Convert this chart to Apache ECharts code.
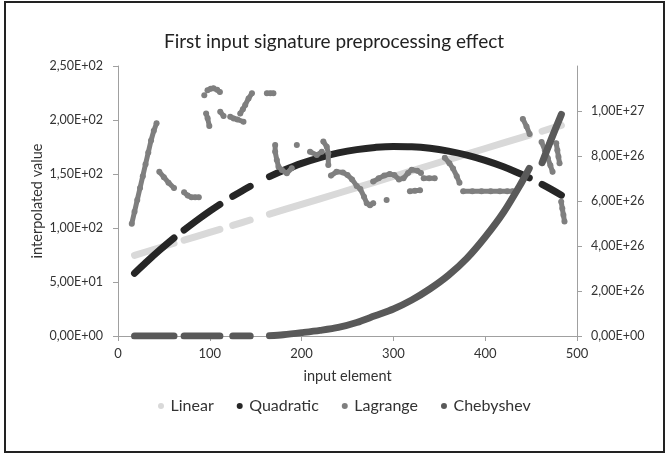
<!DOCTYPE html>
<html>
<head>
<meta charset="utf-8">
<script src="https://cdn.jsdelivr.net/npm/echarts@6/dist/echarts.min.js"></script>
<style>
html,body{margin:0;padding:0;background:#fff;}
#chart{width:668px;height:456px;}
</style>
</head>
<body>
<div id="chart"></div>
<script>
// ---- data ----
const chartTitle = 'First input signature preprocessing effect';
const seriesNames = ['Linear', 'Quadratic', 'Lagrange', 'Chebyshev'];

// shared input elements (null values mark gaps in the data)
const inputX = [18, 30, 45, 61, 66, 72, 85, 100, 111, 118, 125, 135, 144, 155,
  165, 180, 200, 220, 240, 260, 280, 300, 320, 340, 360, 380, 400, 420, 440, 448, 455, 462, 472, 483];

const linearY = [74.7, 77.8, 81.7, 85.9, null, 88.7, 92.1, 96.0, 98.8, null, 102.4, 105.0, 107.4, null,
  112.8, 116.7, 121.8, 127.0, 132.2, 137.4, 142.5, 147.7, 152.9, 158.1, 163.3, 168.4, 173.6, 178.8, 184.0, 186.0, null, 189.6, 192.2, 195.1];

const quadraticY = [58.1, 67.7, 79.2, 90.7, null, 98.1, 106.5, 115.6, 121.9, null, 129.3, 134.3, 138.6, null,
  147.6, 153.2, 159.8, 165.2, 169.5, 172.6, 174.6, 175.5, 175.2, 173.8, 171.2, 167.5, 162.6, 156.7, 149.5, 146.4, null, 140.4, 135.8, 130.4];

// Chebyshev values on the secondary axis, in units of 1e26
const chebyshevE26 = [0, 0, 0, 0, null, 0, 0, 0, 0, null, 0, 0, 0, null,
  0.01, 0.06, 0.15, 0.25, 0.38, 0.6, 0.9, 1.2, 1.6, 2.1, 2.7, 3.45, 4.4, 5.5, 6.85, 7.45, null, 7.7, 8.75, 9.85];

// Lagrange (scattered pieces, null separates pieces)
const lagrangeX = [15, 18, 21, 24, 27, 30, 33, 36, 39, 42, null,
  45, 50, 55, 61, null,
  72, 76, 80, 84, 88, null,
  94, null,
  97.5, 101, 104, 108, 111, null,
  96, 97.6, 99.5, null,
  111.4, 115, null,
  122.3, 126, 130, 136.7, null,
  133.2, 136, 138.6, 142.2, 145.9, null,
  162.2, 166, 169.3, null,
  171.2, 171.2, 173, 174.8, 178.5, 183.9, 189.3, null,
  194.8, null,
  209.2, 216.5, 222, null,
  223.7, 227.4, 229.1, 229.1, null,
  232, 238, 245, 250, 255, 260, 264, 268, 271, 274.5, 278, null,
  278, 284, 290, 296, 301, 306, 311, 316, 320, 326, 330, null,
  292.6, null,
  318, 323.5, 329, null,
  333, 339, 345, null,
  356, 361, 365, 369, 372, null,
  376, 386, 396, 406, 416, 424, 430, null,
  441, 445, 448.4, null,
  461.4, 465, 468.3, 471, 473.4, null,
  477.4, 478.6, 479.8, 481, null,
  482.8, 484, 485.2, 486.4];
const lagrangeY = [104, 115, 126, 137, 148, 159, 170, 181, 190, 197, null,
  152, 147, 142, 137, null,
  133, 130, 128.5, 128.4, 128.4, null,
  223, null,
  227.5, 229, 229.3, 228, 226, null,
  206, 201.6, 194.4, null,
  207.7, 203.7, null,
  203, 201.5, 200.5, 198.4, null,
  206, 210, 213.9, 220, 224.7, null,
  224.7, 224.7, 224.7, null,
  176.9, 170.6, 163, 156.8, 153.7, 150.6, 155.3, null,
  176.9, null,
  170.6, 167.6, 170.6, null,
  180, 175.3, 169.2, 158.3, null,
  148.5, 152, 151.5, 149, 145, 139, 136, 129, 123, 121, 123, null,
  143, 146, 148.5, 150, 149, 145, 146, 151, 154, 153, 151, null,
  126, null,
  134, 134.5, 135, null,
  146, 146, 146, null,
  165, 160, 155, 148, 142, null,
  134, 134, 134, 134, 134, 134, 134, null,
  201, 194, 187, null,
  179.6, 172, 164.5, 158, 152, null,
  178.4, 172, 166, 160, null,
  124.4, 118, 112, 106];

// axis tick values and labels
const xTicks = [0, 100, 200, 300, 400, 500];
const leftTickValues = [0, 50, 100, 150, 200, 250];
const leftTickLabels = ['0,00E+00', '5,00E+01', '1,00E+02', '1,50E+02', '2,00E+02', '2,50E+02'];
const rightTickValues = [0, 2, 4, 6, 8, 10]; // units of 1e26
const rightTickLabels = ['0,00E+00', '2,00E+26', '4,00E+26', '6,00E+26', '8,00E+26', '1,00E+27'];

// ---- build ----
function pairs(xs, ys) { return xs.map((x, i) => [x, ys[i]]); }
const axisColor = '#a0a0a0';
const textColor = '#333';
const FONT = 'Lato';
const colors = ['#d9d9d9', '#262626', '#7f7f7f', '#595959'];

const chart = echarts.init(document.getElementById('chart'), null, {renderer: 'canvas'});
chart.setOption({
  animation: false,
  backgroundColor: '#fff',
  textStyle: {fontFamily: FONT},
  title: {
    text: chartTitle, left: 'center', top: 32, padding: 0,
    textStyle: {fontFamily: FONT, fontSize: 19, fontWeight: 'normal', color: '#222'}
  },
  graphic: [{
    type: 'rect', shape: {x: 5, y: 2, width: 659, height: 450},
    style: {fill: 'none', stroke: '#222', lineWidth: 2}, silent: true, z: 100
  }],
  legend: {
    data: seriesNames, left: 158, top: 398, padding: 0, itemGap: 23,
    icon: 'circle', itemWidth: 9, itemHeight: 6,
    textStyle: {fontFamily: FONT, fontSize: 16, color: textColor}
  },
  grid: {left: 118, right: 91, top: 66, bottom: 120, containLabel: false},
  xAxis: {
    type: 'value', min: 0, max: 500, interval: 100,
    name: 'input element', nameLocation: 'middle', nameGap: 33, nameMoveOverlap: false,
    nameTextStyle: {fontFamily: FONT, fontSize: 14.5, color: textColor},
    axisLine: {show: true, lineStyle: {color: axisColor}},
    axisTick: {show: true, length: 5, lineStyle: {color: axisColor}},
    splitLine: {show: false},
    axisLabel: {margin: 11, fontFamily: FONT, fontSize: 13, color: textColor,
      formatter: v => String(xTicks[Math.round(v / 100)])}
  },
  yAxis: [{
    type: 'value', min: 0, max: 250, interval: 50, position: 'left',
    name: 'interpolated value', nameLocation: 'middle', nameGap: 73, nameMoveOverlap: false,
    nameTextStyle: {fontFamily: FONT, fontSize: 14.5, color: textColor},
    axisLine: {show: true, lineStyle: {color: axisColor}},
    axisTick: {show: true, length: 5, lineStyle: {color: axisColor}},
    splitLine: {show: false},
    axisLabel: {margin: 15, fontFamily: FONT, fontSize: 12.5, color: textColor,
      formatter: v => leftTickLabels[leftTickValues.indexOf(Math.round(v))] || ''}
  }, {
    type: 'value', min: 0, max: 12, interval: 2, position: 'right',
    axisLine: {show: true, lineStyle: {color: axisColor}},
    axisTick: {show: true, length: 5, lineStyle: {color: axisColor}, customValues: rightTickValues},
    splitLine: {show: false},
    axisLabel: {margin: 14, fontFamily: FONT, fontSize: 12.5, color: textColor, customValues: rightTickValues,
      formatter: v => rightTickLabels[rightTickValues.indexOf(Math.round(v))] || ''}
  }],
  series: [{
    name: seriesNames[0], type: 'line', data: pairs(inputX, linearY),
    showSymbol: false, connectNulls: false, clip: true,
    itemStyle: {color: colors[0]},
    lineStyle: {color: colors[0], width: 7, cap: 'round', join: 'round'},
    emphasis: {disabled: true}, z: 2
  }, {
    name: seriesNames[1], type: 'line', data: pairs(inputX, quadraticY),
    showSymbol: false, connectNulls: false, clip: true, smooth: 0.4,
    itemStyle: {color: colors[1]},
    lineStyle: {color: colors[1], width: 7, cap: 'round', join: 'round'},
    emphasis: {disabled: true}, z: 3
  }, {
    name: seriesNames[2], type: 'line', data: pairs(lagrangeX, lagrangeY),
    showSymbol: true, showAllSymbol: true, symbol: 'circle', symbolSize: 6,
    connectNulls: false, clip: true,
    itemStyle: {color: colors[2]},
    lineStyle: {color: colors[2], width: 5, cap: 'round', join: 'round'},
    emphasis: {disabled: true}, z: 4
  }, {
    name: seriesNames[3], type: 'line', yAxisIndex: 1, data: pairs(inputX, chebyshevE26),
    showSymbol: false, connectNulls: false, clip: true, smooth: 0.3,
    itemStyle: {color: colors[3]},
    lineStyle: {color: colors[3], width: 7, cap: 'round', join: 'round'},
    emphasis: {disabled: true}, z: 5
  }]
});
</script>
</body>
</html>
